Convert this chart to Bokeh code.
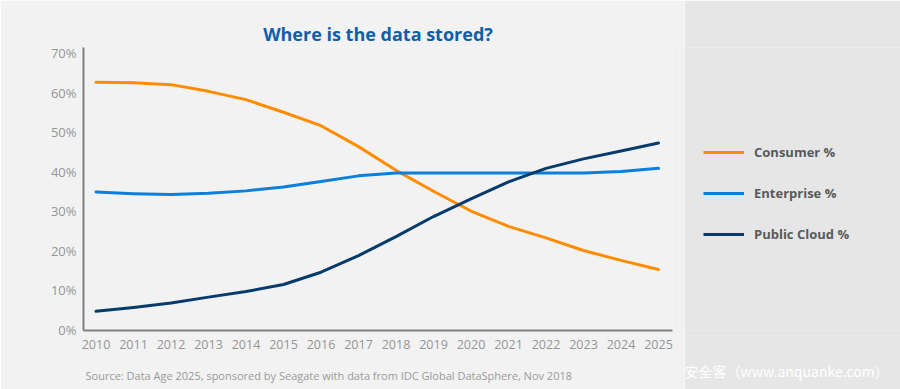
from bokeh.plotting import figure
from bokeh.models import Range1d, FixedTicker, PrintfTickFormatter, Legend, LegendItem, Title
from bokeh.layouts import row
from bokeh.embed import file_html
from bokeh.resources import INLINE

# ---- data ----
years = list(range(2010, 2026))
consumer = [62.6, 62.5, 62.0, 60.3, 58.2, 55.0, 51.6, 46.3, 40.3, 35.0, 30.0, 26.1, 23.2, 20.0, 17.5, 15.2]
enterprise = [34.8, 34.4, 34.2, 34.5, 35.1, 36.1, 37.5, 38.9, 39.6, 39.6, 39.6, 39.6, 39.6, 39.6, 40.0, 40.8]
public_cloud = [4.6, 5.6, 6.7, 8.2, 9.6, 11.4, 14.5, 18.7, 23.5, 28.6, 33.1, 37.4, 40.8, 43.2, 45.2, 47.2]
series_names = ["Consumer %", "Enterprise %", "Public Cloud %"]
series_colors = ["#ff8c00", "#0a7fdc", "#073b6b"]
y_ticks = [0, 10, 20, 30, 40, 50, 60, 70]
title_text = "Where is the data stored?"
source_text = "Source: Data Age 2025, sponsored by Seagate with data from IDC Global DataSphere, Nov 2018"
watermark_text = "安全客（www.anquanke.com）"

FONT = "Open Sans"
series = [consumer, enterprise, public_cloud]

p = figure(width=684, height=389, output_backend="svg", toolbar_location=None,
           x_range=Range1d(2009.667, 2025.373), y_range=Range1d(-0.25, 71.4),
           min_border_left=83, min_border_right=12, min_border_top=47, min_border_bottom=59)
p.background_fill_color = "#f2f2f2"
p.border_fill_color = "#f2f2f2"
p.outline_line_color = None
p.grid.visible = False

p.title.text = title_text
p.title.align = "center"
p.title.text_font = FONT
p.title.text_font_size = "18px"
p.title.text_font_style = "bold"
p.title.text_color = "#0e5ea8"
p.title.standoff = 4

for ax in (p.xaxis[0], p.yaxis[0]):
    ax.axis_line_color = "#808080"
    ax.axis_line_width = 2
    ax.major_tick_line_color = None
    ax.minor_tick_line_color = None
    ax.major_label_text_font = FONT
    ax.major_label_text_color = "#959595"

p.xaxis[0].ticker = FixedTicker(ticks=years)
p.xaxis[0].formatter = PrintfTickFormatter(format="%d")
p.xaxis[0].major_label_standoff = 3
p.xaxis[0].major_label_text_font_size = "12.5px"
p.yaxis[0].ticker = FixedTicker(ticks=y_ticks)
p.yaxis[0].formatter = PrintfTickFormatter(format="%d%%")
p.yaxis[0].major_label_standoff = 1
p.yaxis[0].major_label_text_font_size = "13px"

for vals, col in zip(series, series_colors):
    p.line(years, vals, line_color=col, line_width=3, line_join="round", line_cap="round")

# leading blank line pushes the source note lower inside the bottom border
p.add_layout(Title(text="\n" + source_text, align="left", offset=2, standoff=0,
                   vertical_align="bottom", text_line_height=0.95,
                   text_font=FONT, text_font_size="11px", text_font_style="normal",
                   text_color="#9a9a9a"), "below")

# ---- right panel with legend ----
p2 = figure(width=216, height=389, output_backend="svg", toolbar_location=None,
            x_range=Range1d(0, 216), y_range=Range1d(0, 389),
            min_border_left=0, min_border_right=0, min_border_top=0, min_border_bottom=0)
p2.background_fill_color = "#e6e6e6"
p2.border_fill_color = "#e6e6e6"
p2.outline_line_color = None
p2.axis.visible = False
p2.grid.visible = False

items = []
for name, vals, col in zip(series_names, series, series_colors):
    # same series, outside this panel's view; used only for the legend swatch
    r = p2.line(years, vals, line_color=col, line_width=3)
    items.append(LegendItem(label=name, renderers=[r]))

legend = Legend(items=items, location=(19, 86), glyph_width=41, glyph_height=20,
                label_height=20, spacing=21, padding=0, margin=0, label_standoff=10,
                border_line_color=None, background_fill_alpha=0,
                label_text_font=FONT, label_text_font_style="bold",
                label_text_font_size="13px", label_text_color="#5a5a5a")
p2.add_layout(legend)

p2.add_layout(Title(text="\n" + watermark_text, align="left", offset=0, standoff=8,
                    vertical_align="bottom", text_line_height=1.2,
                    text_font="Noto Sans CJK SC", text_font_size="14px",
                    text_font_style="normal", text_color="#ffffff"), "below")

layout = row(p, p2)
open("out.html", "w").write(file_html(layout, INLINE))
